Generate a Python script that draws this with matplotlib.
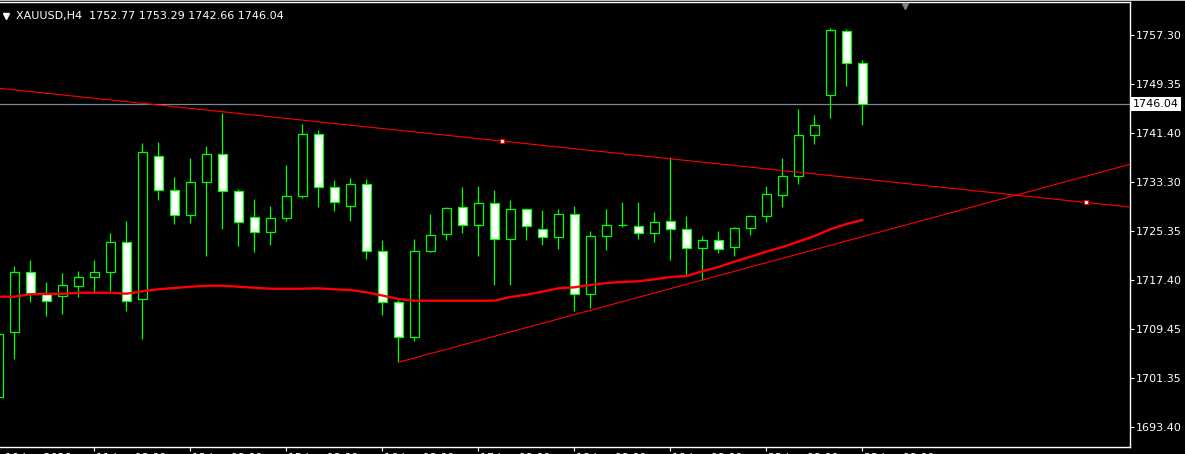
import numpy as np
import matplotlib.pyplot as plt
from matplotlib.patches import Rectangle
from matplotlib.transforms import blended_transform_factory

# XAUUSD H4 bars, first one only partly visible at the left edge
opens = [1698.29, 1708.84, 1718.62, 1715.19, 1714.80, 1716.43, 1717.80, 1718.62, 1723.51,
         1714.22, 1737.53, 1731.98, 1727.91, 1733.29, 1737.85, 1731.82, 1727.58, 1725.14,
         1727.42, 1731.01, 1741.11, 1732.47, 1729.38, 1732.96, 1722.04, 1713.73, 1708.02,
         1722.04, 1724.81, 1729.21, 1726.28, 1729.87, 1724.00, 1728.89, 1725.63, 1724.32,
         1728.07, 1715.03, 1724.49, 1726.25, 1726.12, 1724.97, 1726.93, 1725.63, 1722.53,
         1723.83, 1722.69, 1725.79, 1727.75, 1731.17, 1734.27, 1740.95, 1747.47, 1757.90,
         1752.77]
highs = [1708.90, 1719.64, 1720.62, 1717.04, 1718.50, 1718.83, 1720.62, 1724.97, 1726.98,
         1739.69, 1739.86, 1734.15, 1737.25, 1739.21, 1744.63, 1732.20, 1730.57, 1729.43,
         1736.11, 1742.79, 1741.81, 1733.66, 1733.99, 1733.83, 1723.88, 1714.10, 1724.05,
         1728.12, 1729.26, 1732.52, 1732.69, 1732.03, 1730.40, 1729.10, 1728.77, 1728.94,
         1729.43, 1725.35, 1728.94, 1730.08, 1730.08, 1728.45, 1737.36, 1727.80, 1724.49,
         1725.35, 1726.00, 1727.96, 1732.69, 1737.25, 1745.24, 1744.21, 1758.44, 1758.28,
         1753.29]
lows = [1697.90, 1704.44, 1713.83, 1711.54, 1711.87, 1714.64, 1715.41, 1715.57, 1712.36,
        1707.79, 1730.45, 1726.54, 1726.70, 1721.32, 1725.73, 1722.95, 1721.98, 1723.12,
        1727.03, 1730.78, 1729.31, 1728.66, 1727.03, 1720.83, 1711.71, 1703.95, 1707.47,
        1721.90, 1723.93, 1725.07, 1721.32, 1716.60, 1716.60, 1723.93, 1723.12, 1722.46,
        1712.36, 1712.85, 1722.30, 1726.05, 1724.00, 1723.61, 1720.67, 1718.13, 1717.36,
        1721.81, 1721.32, 1724.65, 1726.87, 1729.31, 1733.06, 1739.58, 1743.82, 1749.04,
        1742.66]
closes = [1708.51, 1718.62, 1715.19, 1713.99, 1716.50, 1717.80, 1718.62, 1723.51, 1713.99,
          1738.18, 1731.98, 1727.91, 1733.29, 1737.85, 1731.82, 1726.77, 1725.14, 1727.42,
          1731.01, 1741.11, 1732.47, 1730.03, 1732.96, 1722.04, 1713.73, 1708.02, 1722.04,
          1724.65, 1729.05, 1726.28, 1729.87, 1724.00, 1728.89, 1726.12, 1724.32, 1728.07,
          1715.03, 1724.49, 1726.28, 1726.33, 1724.97, 1726.77, 1725.63, 1722.53, 1723.83,
          1722.37, 1725.79, 1727.75, 1731.33, 1734.27, 1740.95, 1742.58, 1758.07, 1752.77,
          1746.04]

# moving average drawn on the chart
ma_values = [1714.64, 1714.64, 1715.03, 1715.08, 1715.13, 1715.29, 1715.29, 1715.29, 1715.13,
             1715.52, 1715.85, 1716.06, 1716.27, 1716.43, 1716.43, 1716.27, 1716.11, 1715.94,
             1715.94, 1715.94, 1716.01, 1715.85, 1715.73, 1715.36, 1714.84, 1714.27, 1713.99,
             1713.99, 1713.99, 1713.99, 1713.99, 1713.99, 1714.59, 1714.97, 1715.46, 1716.01,
             1716.17, 1716.55, 1716.87, 1717.04, 1717.15, 1717.48, 1717.85, 1718.01, 1718.78,
             1719.48, 1720.35, 1721.16, 1721.98, 1722.74, 1723.61, 1724.53, 1725.63, 1726.49,
             1727.14]

# trend lines (bar index, price)
down_line_t = [-6, 67]
down_line_p = [1750.0, 1730.0]
up_line_t = [24, 43]
up_line_p = [1703.95, 1717.36]

bid_price = 1746.04
price_ticks = [1757.30, 1749.35, 1741.40, 1733.30, 1725.35, 1717.40, 1709.45, 1701.35, 1693.40]
time_ticks = [5, 11, 17, 23, 29, 35, 41, 47, 53]
time_labels = ["11 Jun 08:00", "12 Jun 08:00", "15 Jun 08:00", "16 Jun 08:00", "17 Jun 08:00",
               "18 Jun 08:00", "19 Jun 08:00", "22 Jun 08:00", "23 Jun 08:00"]
first_label = "10 Jun 2020"
header = "XAUUSD,H4  1752.77 1753.29 1742.66 1746.04"

GREEN = '#00ff00'
RED = '#ff0000'
W, H = 1185, 454


def main():
    fig = plt.figure(figsize=(W / 100, H / 100), dpi=100, facecolor='black')
    ax = fig.add_axes([0, 7 / H, 1130 / W, 445 / H])
    ax.set_facecolor('black')

    ax.set_xlim(-0.894, 69.73)
    ax.set_ylim(1690.14, 1762.68)

    # candles
    x = np.arange(len(opens)) - 1
    for xi, o, h, l, c in zip(x, opens, highs, lows, closes):
        ax.vlines(xi, l, h, color=GREEN, lw=0.9, zorder=3)
        face = 'white' if c < o else 'black'
        ax.add_patch(Rectangle((xi - 0.28, min(o, c)), 0.56, max(abs(c - o), 0.02),
                               facecolor=face, edgecolor=GREEN, lw=0.9, zorder=4))

    # bid line
    ax.axhline(bid_price, color='#778899', lw=0.9, zorder=2)

    # moving average
    ax.plot(x, ma_values, color=RED, lw=1.7, zorder=5)

    # descending trend line (selected, with handles)
    slope_d = (down_line_p[1] - down_line_p[0]) / (down_line_t[1] - down_line_t[0])
    xs = np.array([down_line_t[0], 71])
    ax.plot(xs, down_line_p[0] + slope_d * (xs - down_line_t[0]), color=RED, lw=0.8, zorder=5)
    mid_t = (down_line_t[0] + down_line_t[1]) / 2
    hx = [mid_t, down_line_t[1]]
    hy = [(down_line_p[0] + down_line_p[1]) / 2, down_line_p[1]]
    ax.plot(hx, hy, ls='none', marker='s', ms=3.2, mfc='white', mec=RED, mew=0.8, zorder=6)

    # ascending trend line
    slope_u = (up_line_p[1] - up_line_p[0]) / (up_line_t[1] - up_line_t[0])
    xs = np.array([up_line_t[0], 71])
    ax.plot(xs, up_line_p[0] + slope_u * (xs - up_line_t[0]), color=RED, lw=0.8, zorder=5)

    # axes frame
    for side in ['top', 'right', 'bottom']:
        ax.spines[side].set_color('white')
        ax.spines[side].set_linewidth(1.0)
    ax.spines['left'].set_visible(False)

    # price scale
    ax.yaxis.tick_right()
    ax.set_yticks(price_ticks)
    ax.set_yticklabels([f"{p:.2f}" for p in price_ticks])
    ax.tick_params(axis='y', colors='white', labelcolor='white', labelsize=8,
                   length=2.6, width=0.8, pad=1.3)

    # time scale (labels run past the bottom edge, as in the terminal window)
    ax.set_xticks(time_ticks)
    ax.set_xticklabels([])
    ax.tick_params(axis='x', colors='white', length=2.6, width=0.8)
    tr = blended_transform_factory(ax.transData, ax.transAxes)
    for t, lab in zip(time_ticks, time_labels):
        ax.text(t + 0.12, -6 / 445, lab, transform=tr, ha='left', va='top',
                color='white', fontsize=8, clip_on=False)
    ax.text(5 / 1130, -6 / 445, first_label, transform=ax.transAxes, ha='left', va='top',
            color='white', fontsize=8, clip_on=False)

    # current price label
    trp = blended_transform_factory(ax.transAxes, ax.transData)
    ax.text(1 + 3 / 1130, bid_price, f"{bid_price:.2f}", transform=trp, ha='left', va='center',
            color='black', fontsize=8, clip_on=False,
            bbox=dict(boxstyle='square,pad=0.18', fc='white', ec='none'))

    # header with small triangle
    ax.plot([6 / 1130], [1 - 14 / 445], transform=ax.transAxes, marker='v', ms=4.5,
            color='white', clip_on=False, zorder=7)
    fig.text(16 / W, 1 - 16.5 / H, header, color='white', fontsize=8, va='center', ha='left')

    # chart shift marker
    ax.plot([905 / 1130], [1 - 4 / 445], transform=ax.transAxes, marker='v', ms=5,
            color='#808080', clip_on=False, zorder=7)

    # window edge at the top
    fig.add_artist(Rectangle((0, 1 - 1.2 / H), 1, 1.2 / H, transform=fig.transFigure,
                             facecolor='#c0c0c0', edgecolor='none'))

    fig.savefig('out.png', dpi=100, facecolor='black')


if __name__ == "__main__":
    main()
